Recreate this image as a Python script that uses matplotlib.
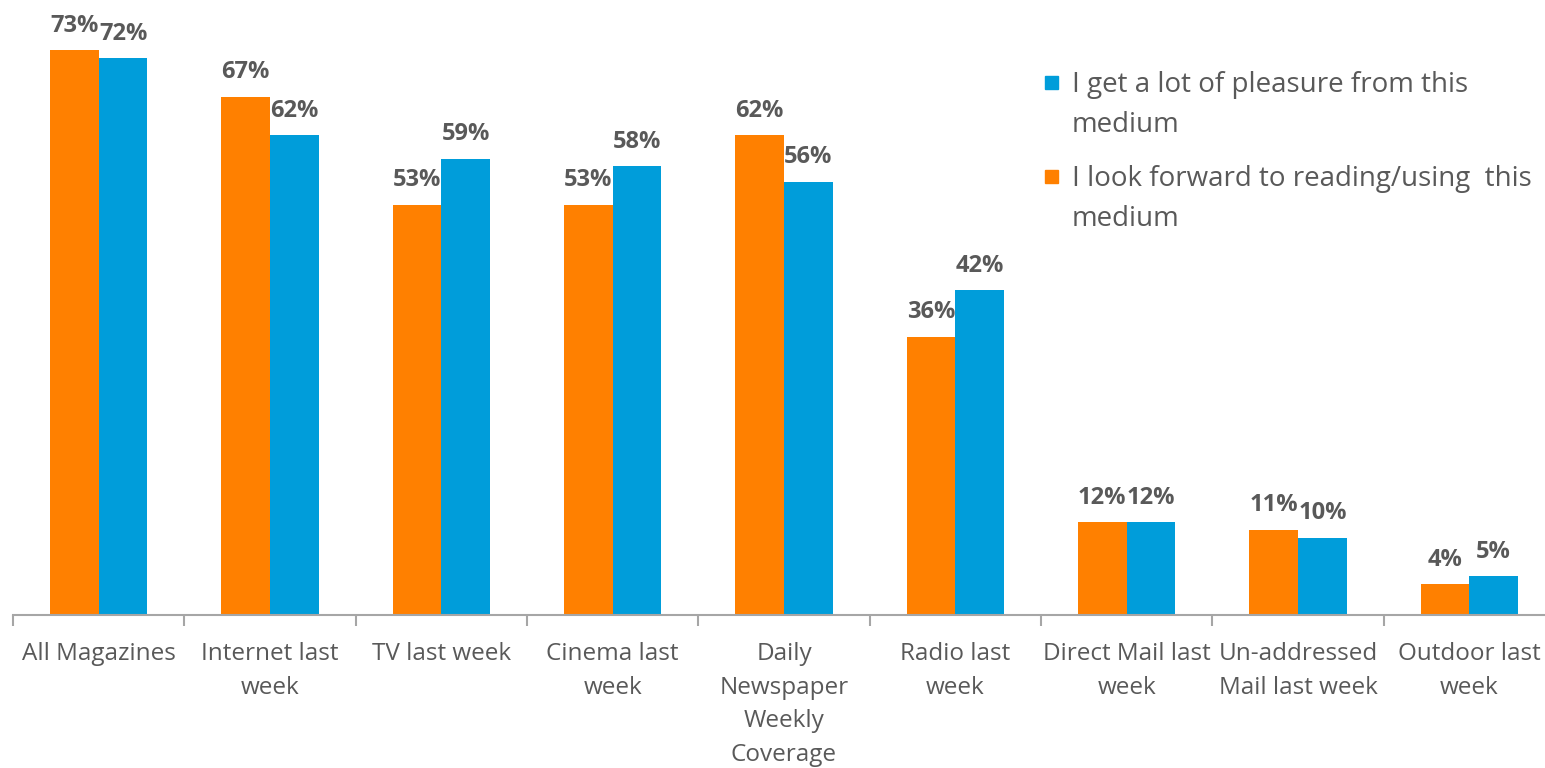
import matplotlib.pyplot as plt
from matplotlib.patches import Rectangle
import numpy as np

plt.rcParams['font.family'] = ['Open Sans', 'DejaVu Sans']

categories = ["All Magazines", "Internet last\nweek", "TV last week", "Cinema last\nweek",
              "Daily\nNewspaper\nWeekly\nCoverage", "Radio last\nweek", "Direct Mail last\nweek",
              "Un-addressed\nMail last week", "Outdoor last\nweek"]
look_forward = [73, 67, 53, 53, 62, 36, 12, 11, 4]
pleasure = [72, 62, 59, 58, 56, 42, 12, 10, 5]
series_names = ["I get a lot of pleasure from this\nmedium",
                "I look forward to reading/using  this\nmedium"]

ORANGE = "#FF8000"
BLUE = "#009DDA"
GREY = "#595959"
AXIS = "#A6A6A6"

W, H = 1545, 768
fig = plt.figure(figsize=(W / 100, H / 100), dpi=100)
ax = fig.add_axes([13 / W, 1 - 615 / H, 1542 / W, 615 / H])

x = np.arange(len(categories))
w = 0.285
b1 = ax.bar(x - w / 2, look_forward, w, color=ORANGE)
b2 = ax.bar(x + w / 2, pleasure, w, color=BLUE)

for bars, vals in ((b1, look_forward), (b2, pleasure)):
    for r, v in zip(bars, vals):
        ax.annotate(f"{v}%", (r.get_x() + r.get_width() / 2, v), xytext=(0, 9),
                    textcoords="offset points", ha="center", va="bottom",
                    fontsize=17, fontweight="bold", color=GREY)

ax.set_xlim(-0.5, len(categories) - 0.5)
ax.set_ylim(0, 79.5)
ax.set_yticks([])
for s in ("top", "right", "left"):
    ax.spines[s].set_visible(False)
ax.spines["bottom"].set_color(AXIS)
ax.spines["bottom"].set_linewidth(1.5)

ax.set_xticks(x)
ax.set_xticklabels(categories, fontsize=17.5, color=GREY, linespacing=1.53)
ax.tick_params(axis="x", which="major", length=0, pad=19.5)
ax.set_xticks(np.arange(len(categories) + 1) - 0.5, minor=True)
ax.tick_params(axis="x", which="minor", length=8, width=1.5, color=AXIS)

# legend: square aligned with the first line of each wrapped entry
for name, color, y_top in ((series_names[0], BLUE, 76), (series_names[1], ORANGE, 170)):
    fig.patches.append(Rectangle((1045 / W, 1 - (y_top + 13) / H), 13 / W, 13 / H,
                                 transform=fig.transFigure, color=color))
    fig.text(1072 / W, 1 - (y_top - 5) / H, name, ha="left", va="top",
             fontsize=20, color=GREY, linespacing=1.56)

fig.savefig("out.png", dpi=100)
